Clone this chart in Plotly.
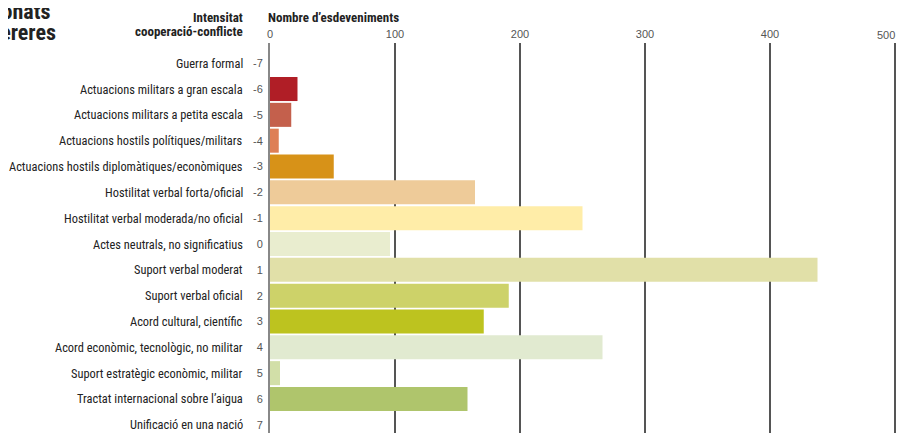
import plotly.graph_objects as go

intensity = [-7, -6, -5, -4, -3, -2, -1, 0, 1, 2, 3, 4, 5, 6, 7]
categories = [
    "Guerra formal",
    "Actuacions militars a gran escala",
    "Actuacions militars a petita escala",
    "Actuacions hostils polítiques/militars",
    "Actuacions hostils diplomàtiques/econòmiques",
    "Hostilitat verbal forta/oficial",
    "Hostilitat verbal moderada/no oficial",
    "Actes neutrals, no significatius",
    "Suport verbal moderat",
    "Suport verbal oficial",
    "Acord cultural, científic",
    "Acord econòmic, tecnològic, no militar",
    "Suport estratègic econòmic, militar",
    "Tractat internacional sobre l’aigua",
    "Unificació en una nació",
]
events = [0, 22, 17, 7, 51, 164, 250, 96, 438, 191, 171, 266, 8, 158, 0]
colors = ["#B01E26", "#B01E26", "#C4604C", "#DE7F55", "#D79218", "#EECB99",
          "#FFEDA8", "#E9EDCF", "#E1E0A8", "#CDD269", "#BDC31F", "#E1EAD0",
          "#D2DFA8", "#AFC56C", "#AFC56C"]
x_ticks = [0, 100, 200, 300, 400, 500]

FONT = "'Roboto Condensed', 'Liberation Sans', sans-serif"
TICKFONT = "'Liberation Sans', 'Roboto', sans-serif"

fig = go.Figure(go.Bar(
    x=events, y=intensity, orientation="h",
    marker=dict(color=colors, line=dict(width=0)),
    hoverinfo="x+y",
))

# page body has an 8px margin: figure pixel = reference pixel - 8
OFF = 8
W, H = 904 - OFF, 441 - 2 * OFF
L, R, T, B = 270 - OFF, 0, 43 - OFF, 0
pw = W - L - R
ph = H - T - B
row = 25.83  # px per category row in the reference
y_top = -7 - (63.2 - 43) / row
y_bot = 7 + (441 - OFF - 424.8) / row
scale = 1.25  # px per event

fig.update_layout(
    width=W, height=H,
    margin=dict(l=L, r=R, t=T, b=B, autoexpand=False),
    paper_bgcolor="white", plot_bgcolor="white",
    bargap=0.07, showlegend=False,
    font=dict(family=FONT, color="#222"),
    xaxis=dict(
        side="top", range=[0, pw / scale], tickvals=x_ticks,
        ticktext=[str(v) if v < 500 else "" for v in x_ticks],
        showgrid=True, gridcolor="#555", gridwidth=2,
        zeroline=False, showline=False, automargin=False,
        tickfont=dict(size=11, color="#555", family=TICKFONT),
        ticks="", ticklabelstandoff=2,
    ),
    yaxis=dict(
        range=[y_bot, y_top], tickvals=intensity,
        ticktext=[str(v) for v in intensity],
        showgrid=False, zeroline=False, automargin=False,
        showline=True, linecolor="#888", linewidth=2,
        tickfont=dict(size=11, color="#555", family=TICKFONT),
        ticks="", ticklabelstandoff=3,
    ),
)

def px_x(p):
    return (p - OFF - L) / pw

def px_y(p):
    return 1 + (T - (p - OFF)) / ph

annotations = []
for cat, yv in zip(categories, intensity):
    annotations.append(dict(
        x=px_x(245), xref="paper", y=yv, yref="y", text=cat,
        showarrow=False, xanchor="right", yanchor="middle",
        font=dict(size=12.4, color="#222", family=FONT),
    ))

annotations += [
    dict(x=px_x(896), xref="paper", y=px_y(35), yref="paper", text=str(x_ticks[-1]),
         showarrow=False, xanchor="right", yanchor="middle", borderpad=0,
         font=dict(size=11, color="#555", family=TICKFONT)),
    dict(x=px_x(245), xref="paper", y=px_y(17), yref="paper", text="<b>Intensitat</b>",
         showarrow=False, xanchor="right", yanchor="middle",
         font=dict(size=13, color="#222", family=FONT)),
    dict(x=px_x(245), xref="paper", y=px_y(31), yref="paper", text="<b>cooperació-conflicte</b>",
         showarrow=False, xanchor="right", yanchor="middle",
         font=dict(size=13, color="#222", family=FONT)),
    dict(x=px_x(266), xref="paper", y=px_y(17), yref="paper", text="<b>Nombre d’esdeveniments</b>",
         showarrow=False, xanchor="left", yanchor="middle",
         font=dict(size=13, color="#222", family=FONT)),
    dict(x=px_x(51), xref="paper", y=px_y(11), yref="paper", text="<b>Esdeveniments seleccionats</b>",
         showarrow=False, xanchor="right", yanchor="middle", borderpad=0,
         font=dict(size=22, color="#222", family=FONT)),
    dict(x=px_x(57), xref="paper", y=px_y(32), yref="paper", text="<b>en conques transfrontereres</b>",
         showarrow=False, xanchor="right", yanchor="middle", borderpad=0,
         font=dict(size=22, color="#222", family=FONT)),
]
fig.update_layout(annotations=annotations)

fig.write_html("out.html")
